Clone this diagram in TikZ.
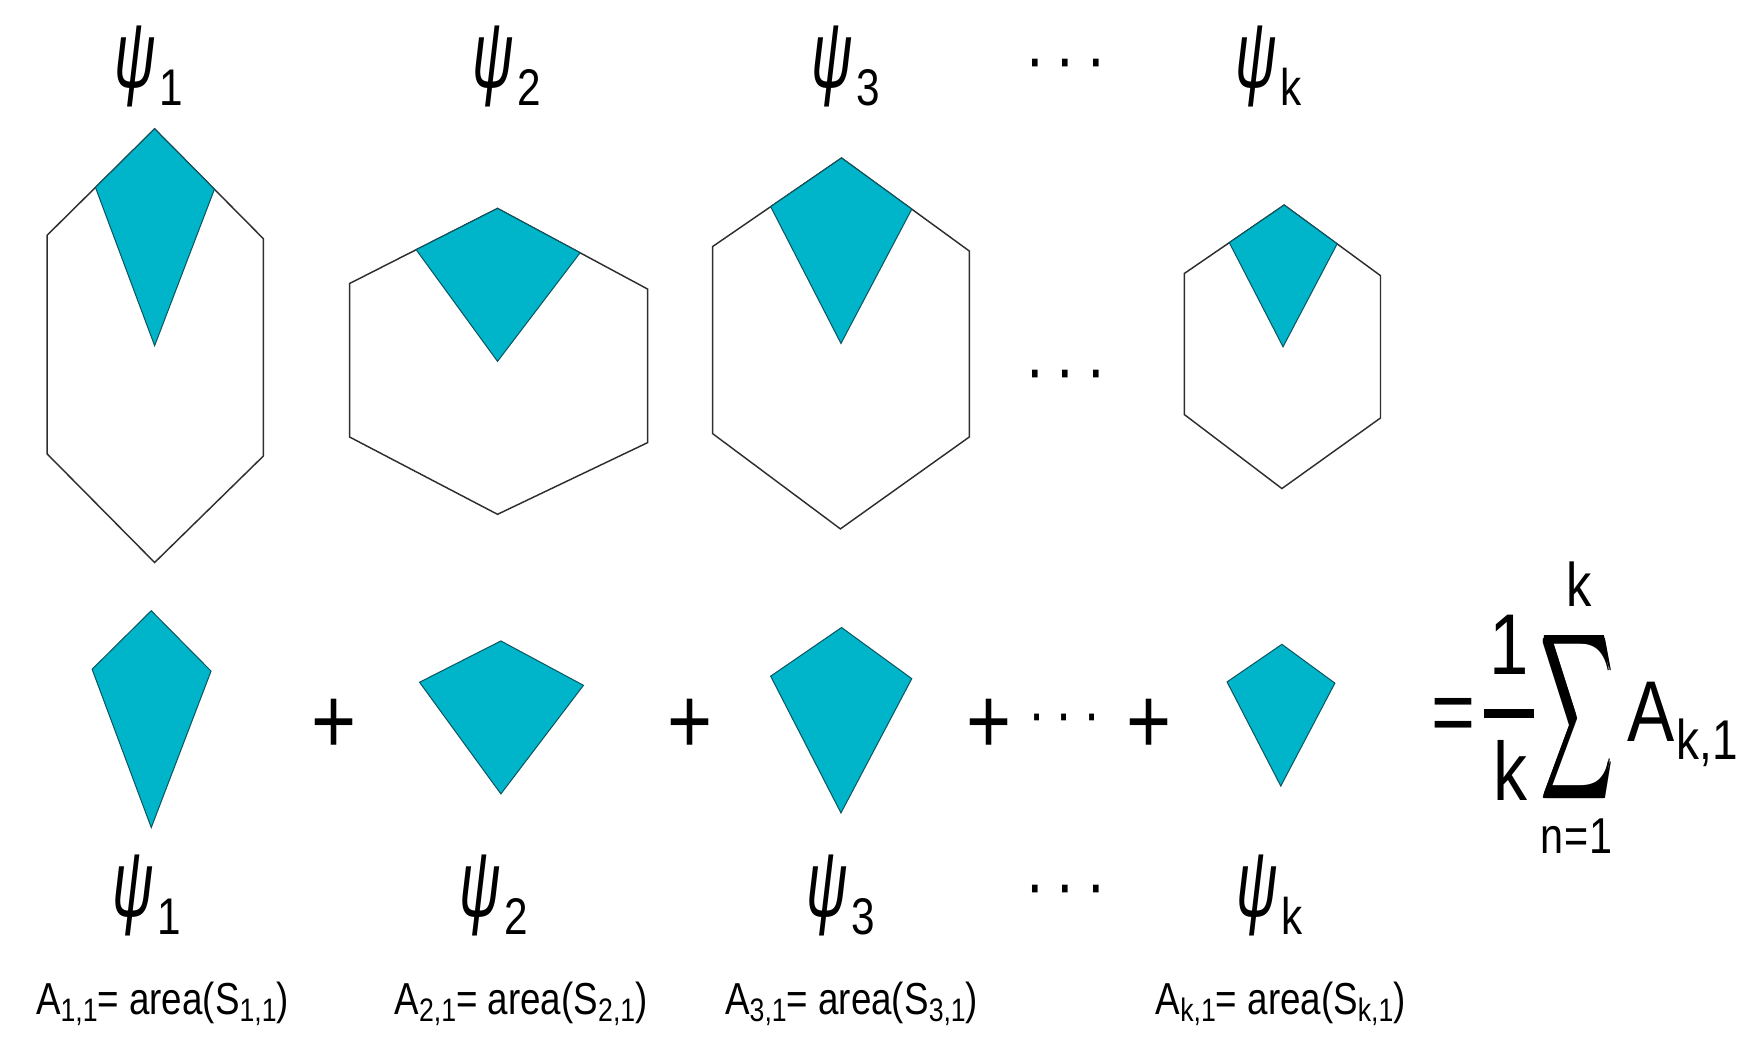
\documentclass[tikz,border=0pt]{standalone}
\usepackage{amsmath}
\usepackage{fontspec}
\setmainfont{Liberation Sans}[FakeStretch=0.82]
\usepackage{tikz}
\usetikzlibrary{positioning,calc}
\definecolor{kiteteal}{HTML}{00B5C9}
\definecolor{kiteedge}{HTML}{0B5560}
\definecolor{hexgray}{HTML}{2E2E2E}
% psi with its index set low, as in the figure
\newcommand{\psilab}[1]{\scalebox{0.74}[1]{\fontsize{84}{86}\selectfont\itshape ψ}\hspace{3pt}\raisebox{-16pt}{\fontsize{46}{46}\selectfont #1}}
\newcommand{\lowsub}[3]{\raisebox{-#1}{\fontsize{#2}{#2}\selectfont #3}}
\newcommand{\arealab}[1]{A\lowsub{7pt}{29pt}{#1}= area(S\lowsub{7pt}{29pt}{#1})}
\newcommand{\kitepath}[1]{(#1a) -- (#1r) -- (#1c) -- (#1l) -- cycle}
\tikzset{
  hexline/.style={draw=hexgray,line width=1.3pt,line join=miter,fill=white},
  kitepart/.style={fill=kiteteal,draw=kiteedge,line width=0.9pt,line join=miter},
  psinode/.style={inner sep=0pt,anchor=base},
  dotsnode/.style={inner sep=0pt,font=\fontsize{64}{64}\selectfont},
  plusnode/.style={inner sep=0pt,font=\fontsize{84}{84}\selectfont},
  areanode/.style={inner sep=0pt,anchor=base,font=\fontsize{40}{40}\selectfont},
  fmlnode/.style={inner sep=0pt,anchor=base}
}

\begin{document}
\begin{tikzpicture}[x=1pt,y=-1pt]
\useasboundingbox (0,0) rectangle (1568,942);
% top labels
\node[psinode] (top1) at (133,78) {\psilab{1}};
\node[psinode] (top2) at (452,78) {\psilab{2}};
\node[psinode] (top3) at (755,78) {\psilab{3}};
\node[dotsnode] (topdots) at (951,63) {·\hspace{10pt}·\hspace{10pt}·};
\node[psinode] (topk) at (1132,78) {\psilab{k}};
% hexagons: corners, and the kite of the first vertex
\coordinate (h1a) at (138,115); \coordinate (h1ur) at (235,213); \coordinate (h1lr) at (235,407);
\coordinate (h1b) at (138,502); \coordinate (h1ll) at (42,405); \coordinate (h1ul) at (42,210);
\coordinate (h2a) at (444,186); \coordinate (h2ur) at (578,258); \coordinate (h2lr) at (578,395);
\coordinate (h2b) at (444,459); \coordinate (h2ll) at (312,390); \coordinate (h2ul) at (312,253);
\coordinate (h3a) at (751,141); \coordinate (h3ur) at (865,224); \coordinate (h3lr) at (865,390);
\coordinate (h3b) at (750,472); \coordinate (h3ll) at (636,387); \coordinate (h3ul) at (636,220);
\coordinate (hka) at (1146,183); \coordinate (hkur) at (1232,246); \coordinate (hklr) at (1232,373);
\coordinate (hkb) at (1144,436); \coordinate (hkll) at (1057,370); \coordinate (hkul) at (1057,244);
\foreach \h in {h1,h2,h3,hk}{
  \draw[hexline] (\h a) -- (\h ur) -- (\h lr) -- (\h b) -- (\h ll) -- (\h ul) -- cycle;
  \coordinate (\h l) at ($(\h a)!0.55!(\h ul)$);
  \coordinate (\h r) at ($(\h a)!0.55!(\h ur)$);
  \coordinate (\h c) at ($(\h a)!0.5!(\h b)$);
  \draw[kitepart] \kitepath{\h};
}
\node[dotsnode] (middots) at (951,341) {·\hspace{10pt}·\hspace{10pt}·};
% kites taken out and summed
\draw[kitepart,transform canvas={shift={(-3,430)}}] \kitepath{h1};
\node[plusnode] (plus1) at (298,648) {+};
\draw[kitepart,transform canvas={shift={(3,386)}}] \kitepath{h2};
\node[plusnode] (plus2) at (616,648) {+};
\draw[kitepart,transform canvas={shift={(0,419)}}] \kitepath{h3};
\node[plusnode] (plus3) at (883,648) {+};
\node[dotsnode,font=\fontsize{56}{56}\selectfont] (sumdots) at (950,646) {·\hspace{9pt}·\hspace{9pt}·};
\node[plusnode] (plus4) at (1025,648) {+};
\draw[kitepart,transform canvas={shift={(-2,392)}}] \kitepath{hk};
% mean of the areas
\node[inner sep=0pt,font=\fontsize{82}{82}\selectfont] (eq) at (1297,643) {=};
\node[fmlnode,font=\fontsize{77}{77}\selectfont] (num) at (1347,602) {1};
\node[fmlnode,font=\fontsize{74}{74}\selectfont] (den) at (1348,714) {k};
\draw[line width=8pt] (1324,637) -- (1369,637);
\node[inner sep=0pt] (sum) at (1408.5,640) {\resizebox*{64pt}{166pt}{$\pmb{\displaystyle\sum}$}};
\node[fmlnode,font=\fontsize{55}{55}\selectfont] (sumtop) at (1409,541) {k};
\node[fmlnode,font=\fontsize{45}{45}\selectfont] (sumbot) at (1407,762) {n\hspace{1pt}=\hspace{1pt}1};
\node[fmlnode,anchor=base west,font=\fontsize{77}{77}\selectfont] (ak) at (1452,662) {A\hspace{2pt}\lowsub{16pt}{50pt}{k,1}};
% bottom labels
\node[psinode] (bot1) at (131,818) {\psilab{1}};
\node[psinode] (bot2) at (441,818) {\psilab{2}};
\node[psinode] (bot3) at (750,818) {\psilab{3}};
\node[dotsnode] (botdots) at (951,800) {·\hspace{10pt}·\hspace{10pt}·};
\node[psinode] (botk) at (1133,818) {\psilab{k}};
\node[areanode] (area1) at (145,905) {\arealab{1,1}};
\node[areanode] (area2) at (465,905) {\arealab{2,1}};
\node[areanode] (area3) at (760,905) {\arealab{3,1}};
\node[areanode] (areak) at (1143,905) {\arealab{k,1}};
\end{tikzpicture}
\end{document}
